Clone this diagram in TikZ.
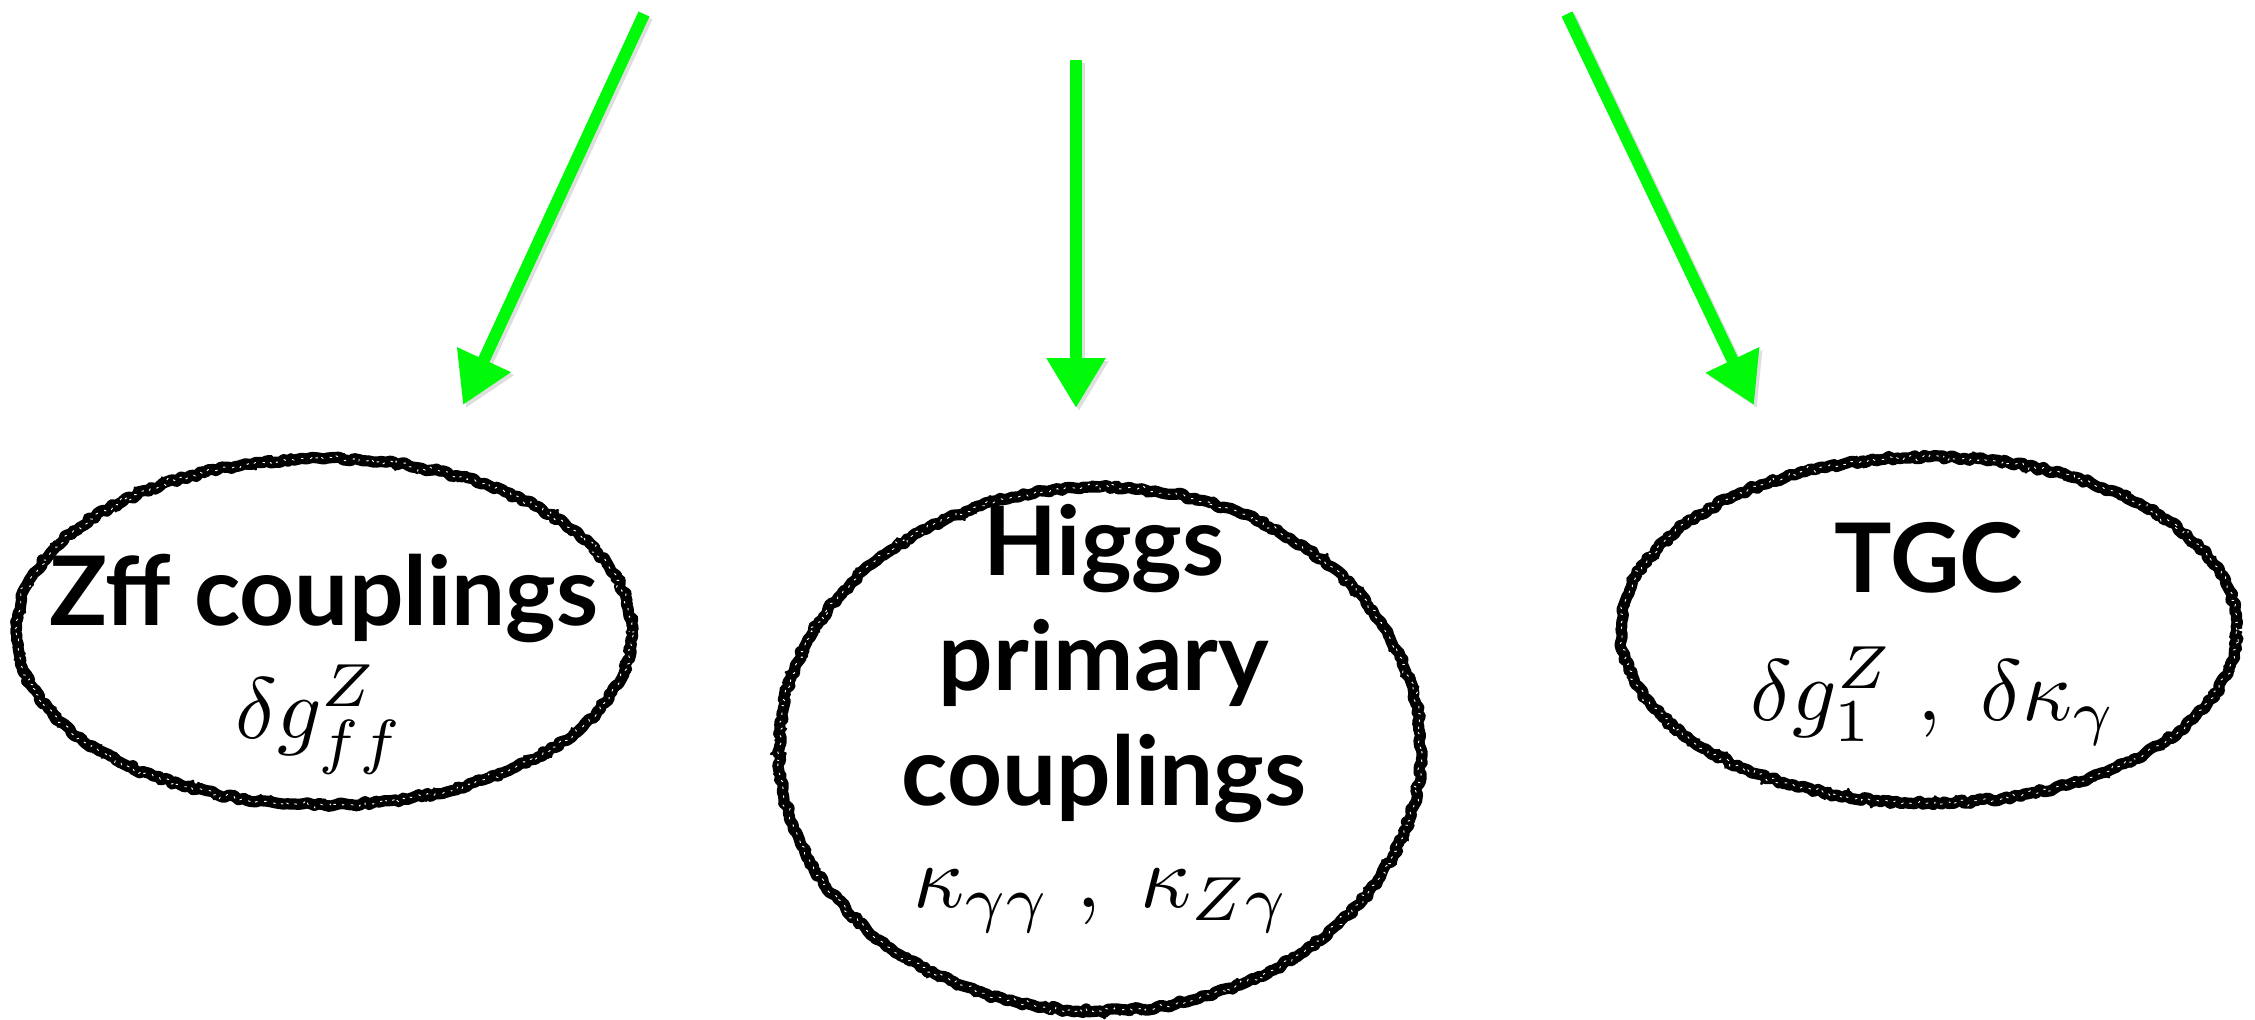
\documentclass[tikz,border=0pt]{standalone}
\usepackage{graphicx}
\usepackage{fontspec}
\newfontfamily\labelfont{Lato}
\usetikzlibrary{arrows.meta,decorations.pathmorphing,shapes.geometric}

\definecolor{arrowgreen}{RGB}{0,250,10}

\tikzset{
  ring/.style={ellipse, draw=black, line width=5.6pt, inner sep=0pt,
    line join=round,
    decorate, decoration={random steps, segment length=2pt, amplitude=1pt},
    postaction={draw, line width=1.3pt, decorate,
      decoration={random steps, segment length=1pt, amplitude=2.8pt}},
    postaction={draw=white, line width=0.45pt, dash pattern=on 1.2pt off 3.5pt, decorate,
      decoration={random steps, segment length=1.5pt, amplitude=1.9pt}}},
  title/.style={font=\labelfont\bfseries\fontsize{48}{56}\selectfont, anchor=base, inner sep=0pt},
  formula/.style={anchor=base, inner sep=0pt},
  flow/.style={draw=arrowgreen, line width=6pt,
    -{Triangle[length=25pt, width=28pt]}},
  flowshadow/.style={draw=black!25, opacity=0.5, line width=6pt,
    -{Triangle[length=25pt, width=28pt]}},
}
\newcommand{\bigmath}[2][4.35]{\scalebox{#1}{$#2$}}

\begin{document}
\begin{tikzpicture}[x=0.5pt, y=-0.5pt]
  \useasboundingbox[fill=white] (0,0) rectangle (2255,1019);
  \pgfmathsetseed{42}

  % three coupling groups
  \node[ring, minimum width=308pt, minimum height=173pt] (zff) at (324,632) {};
  \node[ring, minimum width=321pt, minimum height=262pt] (higgs) at (1100,749) {};
  \node[ring, minimum width=308pt, minimum height=173pt] (tgc) at (1929,630) {};

  % labels
  \node[title] (zfftitle) at (324,625) {Zff couplings};
  \node[formula] (zffmath) at (320,738) {\bigmath{\delta g^{Z}_{ff}}};

  \node[title] (higgs1) at (1104,575) {Higgs};
  \node[title] (higgs2) at (1104,690) {primary};
  \node[title] (higgs3) at (1104,805) {couplings};
  \node[formula] (higgsmath) at (1102,907) {\bigmath[4.45]{\kappa_{\gamma\gamma}\;,\;\kappa_{Z\gamma}}};

  \node[title] (tgctitle) at (1929,592) {TGC};
  \node[formula] (tgcmath) at (1934,720) {\bigmath{\delta g^{Z}_{1}\;,\;\delta\kappa_{\gamma}}};

  % arrow end points
  \coordinate (s1) at (644,14);   \coordinate (t1) at (463,405);
  \coordinate (s2) at (1076,60);  \coordinate (t2) at (1076,408);
  \coordinate (s3) at (1567,14);  \coordinate (t3) at (1754,405);

  % soft shadows, then the arrows
  \foreach \a/\b in {s1/t1, s2/t2, s3/t3} {
    \draw[flowshadow, transform canvas={shift={(1.5pt,-1.5pt)}}] (\a) -- (\b);
  }
  \draw[flow] (s1) -- (t1);
  \draw[flow] (s2) -- (t2);
  \draw[flow] (s3) -- (t3);
\end{tikzpicture}
\end{document}
